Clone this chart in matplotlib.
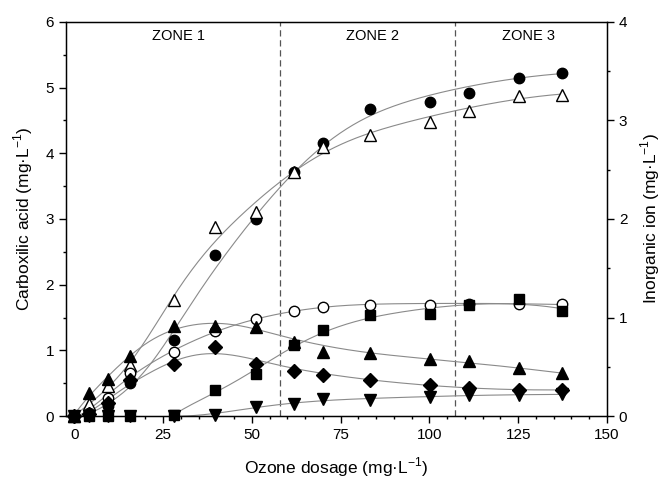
import numpy as np
import matplotlib
matplotlib.use('Agg')
import matplotlib.pyplot as plt
from matplotlib.ticker import MultipleLocator

plt.rcParams['font.family'] = ['Liberation Sans', 'DejaVu Sans']

# ozone dosage (mg/L)
dosage = [0, 4.1, 9.5, 15.8, 28, 39.7, 51.3, 62, 70, 83.3, 100.2, 111.1, 125.1, 137.3]

# series values, read in left-axis units
filled_circle = [0, 0.03, 0.15, 0.5, 1.16, 2.45, 3.0, 3.72, 4.15, 4.68, 4.78, 4.92, 5.15, 5.23]
open_triangle = [0, 0.19, 0.45, 0.78, 1.77, 2.88, 3.11, 3.72, 4.10, 4.28, 4.48, 4.65, 4.87, 4.89]
open_circle = [0, 0.05, 0.28, 0.66, 0.98, 1.29, 1.47, 1.60, 1.655, 1.686, 1.686, 1.70, 1.71, 1.70]
filled_square = [0, 0, 0, 0, 0.015, 0.40, 0.635, 1.08, 1.31, 1.54, 1.55, 1.69, 1.78, 1.60]
filled_triangle = [0, 0.35, 0.57, 0.91, 1.37, 1.37, 1.36, 1.13, 0.98, 0.955, 0.87, 0.84, 0.73, 0.65]
filled_diamond = [0, 0.03, 0.2, 0.55, 0.79, 1.05, 0.79, 0.69, 0.62, 0.55, 0.47, 0.42, 0.40, 0.40]
down_triangle = [0, 0, 0, 0, 0, 0.015, 0.14, 0.19, 0.26, 0.25, 0.285, 0.32, 0.32, 0.33]

zone_edges = [58, 107.3]
zone_labels = ['ZONE 1', 'ZONE 2', 'ZONE 3']
zone_label_x = [29.5, 84, 128]

fig = plt.figure(figsize=(6.65, 4.82), dpi=100)
ax = fig.add_axes([0.0993, 0.1369, 0.8135, 0.8175])

x = np.array(dosage)
xs = np.linspace(0, 137.3, 300)


def fit_line(y, h, start=0.0):
    # local quadratic smoother, bandwidth grows with dosage (points get sparse)
    y = np.array(y)
    m = x >= start
    xi, yi = x[m], y[m]
    xx = xs[xs >= start]
    out = []
    for x0 in xx:
        hh = h + 0.15 * x0
        w = np.exp(-0.5 * ((xi - x0) / hh) ** 2)
        d = (xi - x0) / 10
        A = np.vstack([np.ones_like(xi), d, d ** 2]).T
        W = A * w[:, None]
        coef = np.linalg.lstsq(W.T @ A, W.T @ yi, rcond=None)[0]
        out.append(coef[0])
    ax.plot(xx, out, color='#8a8a8a', lw=0.8, zorder=2)


series = [
    (filled_circle, 'o', 'black', 9, 0),
    (open_triangle, '^', 'white', 9, 0),
    (open_circle, 'o', 'white', 9, 0),
    (filled_square, 's', 'black', 8, 16),
    (filled_triangle, '^', 'black', 9, 0),
    (filled_diamond, 'D', 'black', 8, 0),
    (down_triangle, 'v', 'black', 8, 28),
]

for vals, mk, fc, h, start in series:
    fit_line(vals, h, start)

for vals, mk, fc, h, start in series:
    ms = 7.5 if mk in ('o', 's', 'D') else 9
    ax.plot(dosage, vals, linestyle='none', marker=mk, markersize=ms,
            markerfacecolor=fc, markeredgecolor='black', markeredgewidth=1,
            zorder=3, clip_on=False)

for xe in zone_edges:
    ax.axvline(xe, color='#555555', lw=0.9, ls=(0, (5, 3)), zorder=1)
for lab, xl in zip(zone_labels, zone_label_x):
    ax.text(xl, 5.78, lab, ha='center', va='center', fontsize=10.5)

ax.set_xlim(-2.3, 150)
ax.set_ylim(0, 6)
ax.xaxis.set_major_locator(MultipleLocator(25))
ax.xaxis.set_minor_locator(MultipleLocator(5))
ax.yaxis.set_major_locator(MultipleLocator(1))
ax.yaxis.set_minor_locator(MultipleLocator(0.5))
ax.tick_params(which='major', direction='out', length=5, width=1, labelsize=11)
ax.tick_params(which='minor', direction='out', length=2.5, width=1)
ax.tick_params(top=False, right=False, which='both')
for s in ax.spines.values():
    s.set_linewidth(1)

ax.set_xlabel('Ozone dosage (mg·L$^{\\mathregular{-1}}$)', fontsize=12.5, labelpad=10)
ax.set_ylabel('Carboxilic acid (mg·L$^{\\mathregular{-1}}$)', fontsize=12.5, labelpad=8)

ax2 = ax.twinx()
ax2.set_ylim(0, 4)
ax2.yaxis.set_major_locator(MultipleLocator(1))
ax2.yaxis.set_minor_locator(MultipleLocator(0.5))
ax2.tick_params(which='major', direction='out', length=5, width=1, labelsize=11)
ax2.tick_params(which='minor', direction='out', length=2.5, width=1)
ax2.set_ylabel('Inorganic ion (mg·L$^{\\mathregular{-1}}$)', fontsize=12.5, labelpad=8)

fig.savefig('out.png', dpi=100)
